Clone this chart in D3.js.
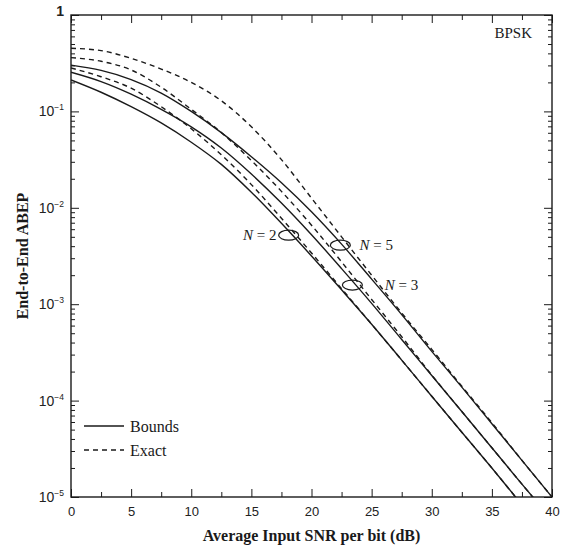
<!DOCTYPE html>
<html>
<head>
<meta charset="utf-8">
<script src="https://cdn.jsdelivr.net/npm/d3@7"></script>
<style>
  body { margin: 0; background: #fff; }
  svg { display: block; }
</style>
</head>
<body>
<div id="chart"></div>
<script>
// SNR grid (dB)
const snr = [0, 2.5, 5, 7.5, 10, 12.5, 15, 17.5, 20, 22.5, 25, 27.5, 30, 32.5, 35, 37.5, 40];

// end-to-end ABEP
const n5Exact = [0.452, 0.427, 0.355, 0.275, 0.200, 0.129, 0.0692, 0.0316, 0.0126, 5.0e-3, 2.0e-3, 8.1e-4, 3.4e-4, 1.41e-4, 5.9e-5, 2.4e-5, 1.0e-5];
const n5Bound = [0.302, 0.266, 0.214, 0.155, 0.100, 0.0603, 0.0339, 0.0182, 9.1e-3, 4.2e-3, 1.82e-3, 7.8e-4, 3.24e-4, 1.38e-4, 5.75e-5, 2.4e-5, 1.0e-5];
const n3Exact = [0.361, 0.331, 0.269, 0.178, 0.105, 0.0603, 0.0309, 0.0148, 6.6e-3, 2.75e-3, 1.12e-3, 4.6e-4, 1.84e-4, 7.7e-5, 3.24e-5, 1.36e-5, 5.8e-6];
const n3Bound = [0.255, 0.204, 0.151, 0.105, 0.0692, 0.0417, 0.0224, 0.0112, 5.25e-3, 2.34e-3, 1.02e-3, 4.3e-4, 1.82e-4, 7.7e-5, 3.24e-5, 1.36e-5, 5.8e-6];
const n2Exact = [0.282, 0.229, 0.174, 0.112, 0.066, 0.0355, 0.0174, 7.8e-3, 3.4e-3, 1.45e-3, 6.2e-4, 2.63e-4, 1.11e-4, 4.7e-5, 2.0e-5, 8.3e-6, 3.5e-6];
const n2Bound = [0.212, 0.158, 0.112, 0.0759, 0.0479, 0.0282, 0.0145, 6.9e-3, 3.16e-3, 1.41e-3, 6.2e-4, 2.63e-4, 1.11e-4, 4.7e-5, 2.0e-5, 8.3e-6, 3.5e-6];

const xTicks = [0, 5, 10, 15, 20, 25, 30, 35, 40];
const yExponents = [0, -1, -2, -3, -4, -5];

// ellipse annotations: [label, snr, abep of ellipse, snr/abep of label]
const annotations = [
  { label: '2', ex: 18.1, ey: 5.2e-3, tx: 14.3, ty: 5.2e-3 },
  { label: '5', ex: 22.4, ey: 4.1e-3, tx: 24.0, ty: 4.1e-3 },
  { label: '3', ex: 23.4, ey: 1.58e-3, tx: 26.1, ty: 1.58e-3 }
];

const width = 567, height = 545;
const margin = { top: 15, right: 15, bottom: 48, left: 71 };

const x = d3.scaleLinear().domain([0, 40]).range([margin.left, width - margin.right]);
const y = d3.scaleLog().domain([1e-5, 1]).range([height - margin.bottom, margin.top]);

const svg = d3.select('#chart').append('svg')
  .attr('width', width)
  .attr('height', height);

svg.append('clipPath').attr('id', 'plot-clip')
  .append('rect')
  .attr('x', x(0)).attr('y', y(1))
  .attr('width', x(40) - x(0)).attr('height', y(1e-5) - y(1));

const ink = '#1a1a1a';

// minor / major ticks, all pointing inward
const xMinor = d3.range(0, 40.01, 2.5).filter(v => v % 5 !== 0);
const yMinor = [];
yExponents.slice(1).forEach(e => {
  for (let k = 2; k <= 9; k++) yMinor.push(k * Math.pow(10, e));
});
const yMajor = yExponents.map(e => Math.pow(10, e));

const styleAxis = g => {
  g.select('.domain').remove();
  g.selectAll('line').attr('stroke', ink).attr('stroke-width', 1);
};

svg.append('g').attr('transform', `translate(0,${y(1e-5)})`)
  .call(d3.axisBottom(x).tickValues(xMinor).tickSize(-5).tickFormat(''))
  .call(styleAxis);
svg.append('g').attr('transform', `translate(0,${y(1)})`)
  .call(d3.axisTop(x).tickValues(xMinor).tickSize(-5).tickFormat(''))
  .call(styleAxis);
svg.append('g').attr('transform', `translate(0,${y(1)})`)
  .call(d3.axisTop(x).tickValues(xTicks).tickSize(-8).tickFormat(''))
  .call(styleAxis);

const xAxis = svg.append('g').attr('transform', `translate(0,${y(1e-5)})`)
  .call(d3.axisBottom(x).tickValues(xTicks).tickSize(-8).tickPadding(10).tickFormat(d3.format('d')))
  .call(styleAxis);
xAxis.selectAll('text')
  .attr('font-family', 'Liberation Sans, Arial, sans-serif')
  .attr('font-size', 13)
  .attr('fill', '#222');

[[d3.axisLeft, x(0)], [d3.axisRight, x(40)]].forEach(([axisFn, pos]) => {
  svg.append('g').attr('transform', `translate(${pos},0)`)
    .call(axisFn(y).tickValues(yMinor).tickSize(-4).tickFormat(''))
    .call(styleAxis);
  svg.append('g').attr('transform', `translate(${pos},0)`)
    .call(axisFn(y).tickValues(yMajor).tickSize(-8).tickFormat(''))
    .call(styleAxis);
});

// y tick labels: 1, 10^-1 ... 10^-5
const yLabels = svg.append('g')
  .attr('font-family', 'Liberation Sans, Arial, sans-serif')
  .attr('fill', '#222')
  .attr('text-anchor', 'end');
yExponents.forEach(e => {
  const t = yLabels.append('text')
    .attr('x', x(0) - 7)
    .attr('y', y(Math.pow(10, e)) + 5)
    .attr('font-size', 14);
  if (e === 0) {
    t.text('1').attr('font-weight', 'bold').attr('y', y(1) + 1);
  } else {
    t.append('tspan').text('10');
    t.append('tspan').attr('font-size', 8.5).attr('dy', -6).text('\u2212' + (-e));
  }
});

// frame
svg.append('rect')
  .attr('x', x(0)).attr('y', y(1))
  .attr('width', x(40) - x(0)).attr('height', y(1e-5) - y(1))
  .attr('fill', 'none').attr('stroke', ink).attr('stroke-width', 1.4);

// curves
const line = d3.line()
  .x((d, i) => x(snr[i]))
  .y(d => y(d))
  .curve(d3.curveMonotoneX);

const curves = svg.append('g').attr('clip-path', 'url(#plot-clip)').attr('fill', 'none');
[n5Bound, n3Bound, n2Bound].forEach(s => {
  curves.append('path').attr('d', line(s))
    .attr('stroke', ink).attr('stroke-width', 1.4);
});
[n5Exact, n3Exact, n2Exact].forEach(s => {
  curves.append('path').attr('d', line(s))
    .attr('stroke', ink).attr('stroke-width', 1.4)
    .attr('stroke-dasharray', '5,4');
});

// N = ... annotations
const notes = svg.append('g').attr('font-family', 'Liberation Serif, Times New Roman, serif').attr('font-size', 15).attr('fill', ink);
annotations.forEach(a => {
  notes.append('ellipse')
    .attr('cx', x(a.ex)).attr('cy', y(a.ey))
    .attr('rx', 10).attr('ry', 5)
    .attr('fill', 'none').attr('stroke', ink).attr('stroke-width', 1.2);
  const t = notes.append('text')
    .attr('x', x(a.tx)).attr('y', y(a.ty) + 5);
  t.append('tspan').attr('font-style', 'italic').text('N');
  t.append('tspan').text(' = ' + a.label);
});

// BPSK tag
svg.append('text')
  .attr('x', x(40) - 20).attr('y', y(1) + 23)
  .attr('text-anchor', 'end')
  .attr('font-family', 'Liberation Serif, Times New Roman, serif')
  .attr('font-size', 15)
  .attr('fill', ink)
  .text('BPSK');

// legend
const legend = svg.append('g')
  .attr('font-family', 'Liberation Serif, Times New Roman, serif')
  .attr('font-size', 16)
  .attr('fill', ink);
[['Bounds', null, 426], ['Exact', '5,4', 450]].forEach(([name, dash, ly]) => {
  legend.append('line')
    .attr('x1', 84).attr('x2', 124).attr('y1', ly).attr('y2', ly)
    .attr('stroke', ink).attr('stroke-width', 1.3)
    .attr('stroke-dasharray', dash);
  legend.append('text').attr('x', 130).attr('y', ly + 5.5).text(name);
});

// axis titles
svg.append('text')
  .attr('x', (x(0) + x(40)) / 2).attr('y', 541)
  .attr('text-anchor', 'middle')
  .attr('font-family', 'Liberation Serif, Times New Roman, serif')
  .attr('font-weight', 'bold')
  .attr('font-size', 16)
  .attr('fill', ink)
  .text('Average Input SNR per bit (dB)');

svg.append('text')
  .attr('transform', `translate(28,${(y(1) + y(1e-5)) / 2}) rotate(-90)`)
  .attr('text-anchor', 'middle')
  .attr('font-family', 'Liberation Serif, Times New Roman, serif')
  .attr('font-weight', 'bold')
  .attr('font-size', 16)
  .attr('fill', ink)
  .text('End-to-End ABEP');
</script>
</body>
</html>
